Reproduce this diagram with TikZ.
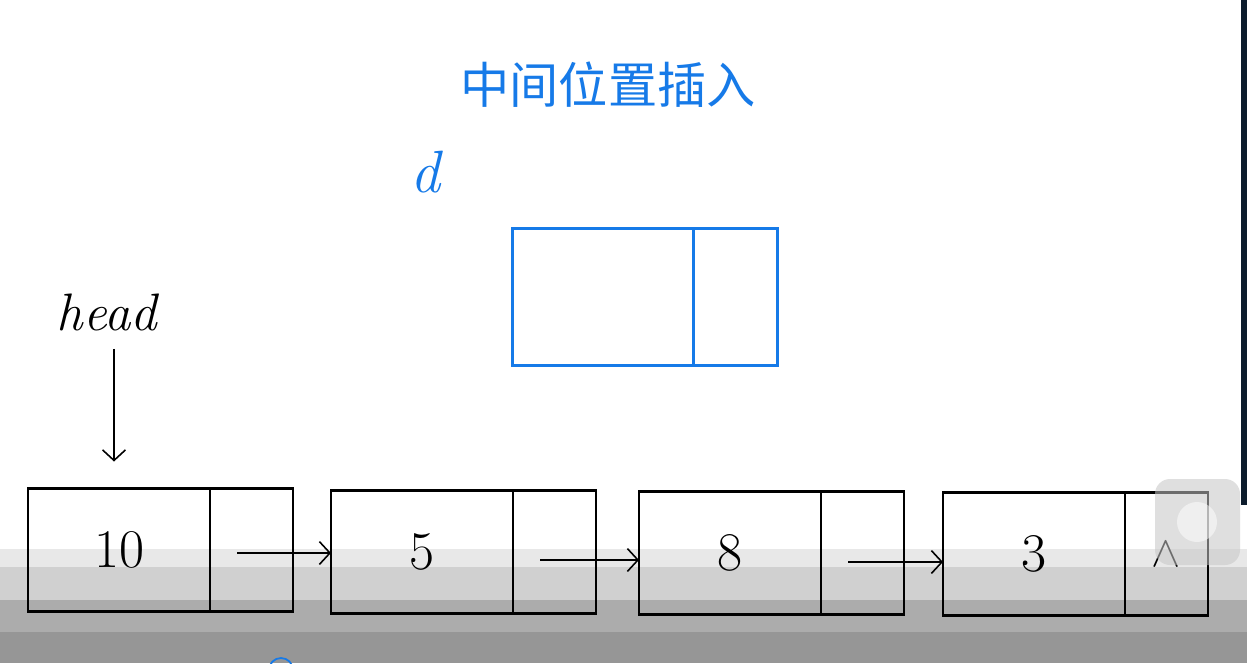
\documentclass[tikz,border=0pt]{standalone}
\usepackage{fontspec}
\newfontfamily\cjk{Noto Sans CJK SC}
\usetikzlibrary{arrows.meta,positioning}

\definecolor{penblue}{RGB}{22,122,232}
\definecolor{bandA}{RGB}{232,232,232}
\definecolor{bandB}{RGB}{208,208,208}
\definecolor{bandC}{RGB}{172,172,172}
\definecolor{bandD}{RGB}{150,150,150}
\definecolor{edgestrip}{RGB}{12,28,44}

\tikzset{
  datapart/.style={draw, line width=1.3pt, minimum width=3.64cm, minimum height=2.46cm,
    inner sep=0pt, outer sep=0pt, font=\fontsize{31}{31}\selectfont},
  ptrpart/.style={datapart, minimum width=1.66cm, font=\fontsize{30}{30}\selectfont},
  newpart/.style={datapart, draw=penblue, line width=1.7pt, minimum height=2.76cm},
  link/.style={line width=0.9pt, -{Straight Barb[length=6pt,width=13pt]}},
}

\begin{document}
\begin{tikzpicture}[x=0.02cm, y=-0.02cm]
\useasboundingbox (0,0) rectangle (1247,663);

% screen background
\fill[white] (0,0) rectangle (1247,663);
\fill[bandA] (0,549) rectangle (1247,567);
\fill[bandB] (0,567) rectangle (1247,600);
\fill[bandC] (0,600) rectangle (1247,632);
\fill[bandD] (0,632) rectangle (1247,663);
\fill[edgestrip] (1241,0) rectangle (1247,505);
\draw[penblue, line width=1pt] (281,670) circle (0.24cm);

% title and new node
\node[text=penblue, font=\cjk\fontsize{28}{28}\selectfont] (title) at (608,85) {中间位置插入};
\node[text=penblue, font=\itshape\fontsize{34}{34}\selectfont] (dname) at (425,172) {d};
\node[newpart] (dval) at (603,297) {};
\node[newpart, minimum width=1.68cm, right=0pt of dval] (dnxt) {};

% list
\node[font=\itshape\fontsize{30}{30}\selectfont] (head) at (107,312) {head};

\node[datapart] (val1) at (119,550) {10};
\node[ptrpart, right=0pt of val1] (nxt1) {};
\node[datapart] (val2) at (422,552) {5};
\node[ptrpart, right=0pt of val2] (nxt2) {};
\node[datapart] (val3) at (730,553) {8};
\node[ptrpart, right=0pt of val3] (nxt3) {};
\node[datapart] (val4) at (1034,554) {3};
\node[ptrpart, right=0pt of val4] (nxt4) {$\wedge$};

\draw[link, shorten >=0.54cm] (head.south) ++(7,12) coordinate (hstart) (hstart) -- (hstart |- val1.north);
\draw[link] ([xshift=-0.28cm,yshift=-0.06cm]nxt1.center) -- ([yshift=-0.06cm]val2.west |- nxt1.center);
\draw[link] ([xshift=-0.28cm,yshift=-0.16cm]nxt2.center) -- ([yshift=-0.16cm]val3.west |- nxt2.center);
\draw[link] ([xshift=-0.28cm,yshift=-0.18cm]nxt3.center) -- ([yshift=-0.18cm]val4.west |- nxt3.center);

% floating button
\fill[gray!45, opacity=0.55, rounded corners=0.3cm] (1155,479) rectangle (1240,565);
\fill[white, opacity=0.5] (1197,522) circle (0.4cm);

\end{tikzpicture}
\end{document}
